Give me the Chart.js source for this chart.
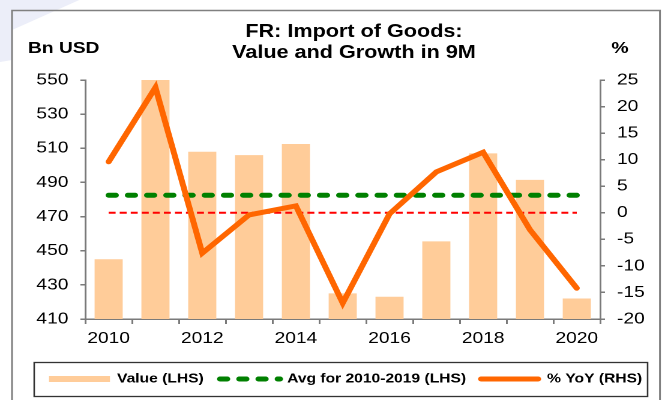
<!DOCTYPE html>
<html>
<head>
<meta charset="utf-8">
<script src="https://cdn.jsdelivr.net/npm/chart.js@4"></script>
<style>
  html, body { margin: 0; padding: 0; background: #ffffff; overflow: hidden; }
  #wrap { width: 665px; height: 400px; overflow: hidden; position: relative; }
  #c { position: absolute; left: 0; top: 0; transform-origin: 0 0; }
</style>
</head>
<body>
<div id="wrap"><canvas id="c" width="554" height="400"></canvas></div>
<script>
// ---- data ----
const years = ['2010','2011','2012','2013','2014','2015','2016','2017','2018','2019','2020'];
const shownYears = ['2010','2012','2014','2016','2018','2020'];
const valueBn = [445, 550, 508, 506, 512.5, 425, 423, 455.5, 507, 491.5, 422];
const avg2010to2019 = [482.5, 482.5, 482.5, 482.5, 482.5, 482.5, 482.5, 482.5, 482.5, 482.5, 482.5];
const yoyPct = [9.6, 23.6, -7.6, -0.4, 1.3, -17.0, -0.2, 7.7, 11.4, -3.2, -14.2];
const zeroLine = [0, 0, 0, 0, 0, 0, 0, 0, 0, 0, 0];
const leftTicks = [410, 430, 450, 470, 490, 510, 530, 550];
const rightTicks = [-20, -15, -10, -5, 0, 5, 10, 15, 20, 25];
const titleLines = ['FR: Import of Goods:', 'Value and Growth in 9M'];
const leftUnit = 'Bn USD';
const rightUnit = '%';
const legendLabels = ['Value (LHS)', 'Avg for 2010-2019 (LHS)', '% YoY (RHS)'];

// ---- style ----
const W = 554, H = 400;
const SX = 665 / W;
const FONT = '"Liberation Sans", Arial, Helvetica, sans-serif';
const BAR = '#FFCC99', GREEN = '#008000', RED = '#FF0000', ORANGE = '#FF6600';
const AXIS = '#7a7a7a';

document.getElementById('c').style.transform = 'scaleX(' + SX + ')';

const decor = {
  id: 'decor',
  beforeDraw(chart) {
    const ctx = chart.ctx;
    ctx.save();
    ctx.fillStyle = '#ffffff';
    ctx.fillRect(0, 0, W, H);
    ctx.fillStyle = '#eceef9';
    ctx.beginPath();
    ctx.moveTo(0, 0); ctx.lineTo(66, 0); ctx.lineTo(10, 30); ctx.lineTo(10, 60); ctx.lineTo(0, 62);
    ctx.closePath(); ctx.fill();
    ctx.strokeStyle = '#808080';
    ctx.lineWidth = 1.5;
    ctx.strokeRect(10, 10.5, 539.8, 420);
    ctx.restore();
  },
  afterDraw(chart) {
    const ctx = chart.ctx;
    ctx.save();
    ctx.fillStyle = '#000';
    ctx.textBaseline = 'middle';
    ctx.font = 'bold 18px ' + FONT;
    ctx.textAlign = 'center';
    ctx.fillText(titleLines[0], 294.9, 32);
    ctx.fillText(titleLines[1], 294.9, 53);
    ctx.font = 'bold 16px ' + FONT;
    ctx.textAlign = 'left';
    ctx.fillText(leftUnit, 23.3, 48.5);
    ctx.textAlign = 'center';
    ctx.fillText(rightUnit, 516.5, 48.5);

    // legend box
    ctx.strokeStyle = '#333333';
    ctx.lineWidth = 1.3;
    ctx.strokeRect(28.5, 362.5, 511, 34);
    const ly = 379;
    const ds = chart.data.datasets;
    // bar swatch
    ctx.fillStyle = ds[0].backgroundColor;
    ctx.fillRect(40.8, ly - 3, 50.8, 6);
    // green dashed swatch
    ctx.strokeStyle = ds[1].borderColor;
    ctx.lineWidth = 5;
    ctx.lineCap = 'round';
    ctx.setLineDash(ds[1].borderDash);
    ctx.beginPath(); ctx.moveTo(183.3, ly); ctx.lineTo(233.3, ly); ctx.stroke();
    ctx.setLineDash([]);
    // orange swatch
    ctx.strokeStyle = ds[3].borderColor;
    ctx.beginPath(); ctx.moveTo(400.8, ly); ctx.lineTo(448.3, ly); ctx.stroke();
    // texts
    ctx.fillStyle = '#000';
    ctx.font = 'bold 13px ' + FONT;
    ctx.textAlign = 'left';
    ctx.fillText(legendLabels[0], 97.5, ly);
    ctx.fillText(legendLabels[1], 239.2, ly);
    ctx.fillText(legendLabels[2], 455.8, ly);
    ctx.restore();
  }
};

const tickFont = { family: FONT, size: 16 };

new Chart(document.getElementById('c'), {
  type: 'bar',
  data: {
    labels: years,
    datasets: [
      {
        type: 'bar', label: legendLabels[0], data: valueBn, yAxisID: 'y',
        backgroundColor: BAR, borderWidth: 0,
        barPercentage: 0.6, categoryPercentage: 1.0, order: 4
      },
      {
        type: 'line', label: legendLabels[1], data: avg2010to2019, yAxisID: 'y',
        borderColor: GREEN, borderWidth: 5, borderDash: [6, 10], borderCapStyle: 'round',
        pointRadius: 0, fill: false, order: 2
      },
      {
        type: 'line', label: 'zero', data: zeroLine, yAxisID: 'y1',
        borderColor: RED, borderWidth: 2, borderDash: [5.8, 3.4], borderCapStyle: 'butt',
        pointRadius: 0, fill: false, order: 3
      },
      {
        type: 'line', label: legendLabels[2], data: yoyPct, yAxisID: 'y1',
        borderColor: ORANGE, borderWidth: 5, borderCapStyle: 'round', borderJoinStyle: 'miter',
        pointRadius: 0, tension: 0, fill: false, order: 1
      }
    ]
  },
  options: {
    responsive: false,
    animation: false,
    devicePixelRatio: 2,
    layout: { padding: { top: 80, left: 0, right: 0, bottom: 0 } },
    plugins: { legend: { display: false }, tooltip: { enabled: false }, title: { display: false } },
    scales: {
      x: {
        type: 'category', offset: true,
        grid: { offset: true, drawOnChartArea: false, drawTicks: true, tickLength: 5, color: AXIS, lineWidth: 1.5 },
        border: { display: true, color: AXIS, width: 1.5 },
        ticks: {
          autoSkip: false, maxRotation: 0, minRotation: 0, padding: 5, color: '#000', font: tickFont,
          callback: function (v, i) { const l = years[i]; return shownYears.includes(l) ? l : ''; }
        },
        afterFit(s) { s.height = 81; }
      },
      y: {
        position: 'left', min: 410, max: 550,
        afterBuildTicks(s) { s.ticks = leftTicks.map(v => ({ value: v })); },
        grid: { drawOnChartArea: false, drawTicks: true, tickLength: 4, color: AXIS, lineWidth: 1.5 },
        border: { display: true, color: AXIS, width: 1.5 },
        ticks: { padding: 10, color: '#000', font: tickFont },
        afterFit(s) { s.width = 71; }
      },
      y1: {
        position: 'right', min: -20, max: 25,
        afterBuildTicks(s) { s.ticks = rightTicks.map(v => ({ value: v })); },
        grid: { drawOnChartArea: false, drawTicks: true, tickLength: 4, color: AXIS, lineWidth: 1.5 },
        border: { display: true, color: AXIS, width: 1.5 },
        ticks: { padding: 10, color: '#000', font: tickFont },
        afterFit(s) { s.width = 54; }
      }
    }
  },
  plugins: [decor]
});
</script>
</body>
</html>
